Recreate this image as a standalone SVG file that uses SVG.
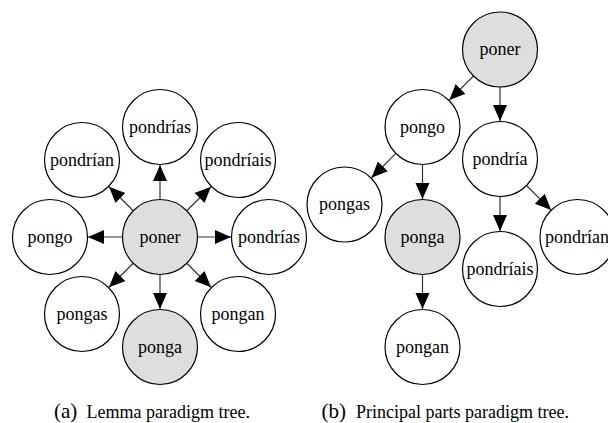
<svg xmlns="http://www.w3.org/2000/svg" width="608" height="423" viewBox="0 0 608 423" font-family="'Liberation Serif', 'Times New Roman', 'DejaVu Serif', serif">
<defs>
<marker id="ah" markerUnits="userSpaceOnUse" markerWidth="17" markerHeight="15" refX="16" refY="7" orient="auto">
<path d="M0,0 L16,7 L0,14 z" fill="#000"/>
</marker>
<style>
circle{stroke:#000;stroke-width:1.2;fill:#fff}
.g circle{fill:#dedede}
text{font-family:'Liberation Serif','Times New Roman','DejaVu Serif',serif;font-size:18px;fill:#000}
.n text{text-anchor:middle}
.e line{stroke:#333;stroke-width:1.2;marker-end:url(#ah)}
.cap{font-size:18px}
.capl{font-size:21px}
</style>
</defs>
<rect width="608" height="423" fill="#fff"/>
<g class="e" id="edges-a">
<line x1="160" y1="199.5" x2="160" y2="165"/>
<line x1="160" y1="274.5" x2="160" y2="309"/>
<line x1="122.5" y1="237" x2="88" y2="237"/>
<line x1="197.5" y1="237" x2="231" y2="237"/>
<line x1="133.3" y1="210.7" x2="109" y2="186.7"/>
<line x1="186.7" y1="210.7" x2="211" y2="186.7"/>
<line x1="133.3" y1="263.3" x2="109" y2="287.3"/>
<line x1="186.7" y1="263.3" x2="211" y2="287.3"/>
</g>
<g class="e" id="edges-b">
<line x1="473.5" y1="76" x2="449.4" y2="100.1"/>
<line x1="500" y1="87" x2="500" y2="121"/>
<line x1="395.9" y1="153.4" x2="371.5" y2="177.7"/>
<line x1="422.5" y1="164.5" x2="422.5" y2="199"/>
<line x1="422.5" y1="274.5" x2="422.5" y2="309"/>
<line x1="500" y1="196.5" x2="500" y2="231"/>
<line x1="526.5" y1="185.5" x2="551.1" y2="210.1"/>
</g>
<g class="n">
<g id="a-poner" class="g"><circle cx="160" cy="237" r="37.5"/><text x="160" y="242.5">poner</text></g>
<g id="a-pondrias-top"><circle cx="160" cy="127" r="37.5"/><text x="160" y="132.5">pondrías</text></g>
<g id="a-pondrian"><circle cx="82" cy="160" r="37.5"/><text x="82" y="165.5">pondrían</text></g>
<g id="a-pondriais"><circle cx="238" cy="160" r="37.5"/><text x="238" y="165.5">pondríais</text></g>
<g id="a-pongo"><circle cx="50" cy="237" r="37.5"/><text x="50" y="242.5">pongo</text></g>
<g id="a-pondrias-right"><circle cx="269" cy="237" r="37.5"/><text x="269" y="242.5">pondrías</text></g>
<g id="a-pongas"><circle cx="82" cy="314" r="37.5"/><text x="82" y="319.5">pongas</text></g>
<g id="a-ponga" class="g"><circle cx="160" cy="347" r="37.5"/><text x="160" y="352.5">ponga</text></g>
<g id="a-pongan"><circle cx="238" cy="314" r="37.5"/><text x="238" y="319.5">pongan</text></g>

<g id="b-poner" class="g"><circle cx="500" cy="49.5" r="37.5"/><text x="500" y="55">poner</text></g>
<g id="b-pongo"><circle cx="422.5" cy="127" r="37.5"/><text x="422.5" y="132.5">pongo</text></g>
<g id="b-pondria"><circle cx="500" cy="159" r="37.5"/><text x="500" y="164.5">pondría</text></g>
<g id="b-pongas"><circle cx="344.5" cy="204.5" r="37.5"/><text x="344.5" y="210">pongas</text></g>
<g id="b-ponga" class="g"><circle cx="422.5" cy="237" r="37.5"/><text x="422.5" y="242.5">ponga</text></g>
<g id="b-pondriais"><circle cx="500" cy="269" r="37.5"/><text x="500" y="274.5">pondríais</text></g>
<g id="b-pondrian"><circle cx="577.5" cy="237" r="37.5"/><text x="577" y="242.5">pondrían</text></g>
<g id="b-pongan"><circle cx="422.5" cy="347" r="37.5"/><text x="422.5" y="352.5">pongan</text></g>
</g>
<g id="captions">
<text class="capl" x="54" y="418">(a)</text>
<text class="cap" x="86.5" y="418">Lemma paradigm tree.</text>
<text class="capl" x="321.5" y="418">(b)</text>
<text class="cap" x="356" y="418">Principal parts paradigm tree.</text>
</g>
</svg>
